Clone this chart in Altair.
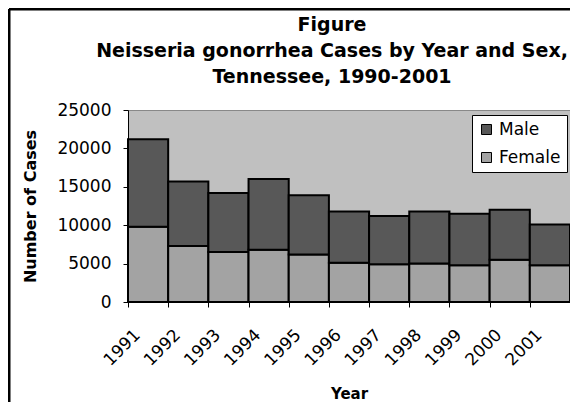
import altair as alt
import pandas as pd

years = ["1991", "1992", "1993", "1994", "1995", "1996", "1997", "1998", "1999", "2000", "2001"]
female = [9800, 7300, 6500, 6800, 6200, 5100, 4900, 5000, 4800, 5500, 4800]
male = [11400, 8400, 7700, 9200, 7700, 6700, 6300, 6800, 6700, 6500, 5300]
sexes = ["Male", "Female"]
y_ticks = [0, 5000, 10000, 15000, 20000, 25000]
title_lines = ["Figure", "Neisseria gonorrhea Cases by Year and Sex,", "Tennessee, 1990-2001"]

rows = []
for i, yr in enumerate(years):
    rows.append({"Year": yr, "Sex": "Female", "Cases": female[i], "ord": 0})
    rows.append({"Year": yr, "Sex": "Male", "Cases": male[i], "ord": 1})
df = pd.DataFrame(rows)

bars = alt.Chart(df).mark_bar(stroke="black", strokeWidth=2).encode(
    x=alt.X(
        "Year:O",
        title="Year",
        scale=alt.Scale(paddingInner=0, paddingOuter=0),
        axis=alt.Axis(
            labelAngle=315,
            labelAlign="right",
            labelBaseline="middle",
            labelPadding=25,
            labelOffset=-11,
            labelFontSize=17,
            labelColor="black",
            tickBand="extent",
            tickSize=5,
            tickColor="black",
            domainColor="black",
            titleFontSize=15,
            titleFontWeight="bold",
            titleColor="black",
            titleY=91,
            titleBaseline="middle",
        ),
    ),
    y=alt.Y(
        "Cases:Q",
        stack="zero",
        title="Number of Cases",
        scale=alt.Scale(domain=[0, 25000], nice=False),
        axis=alt.Axis(
            values=y_ticks,
            format="d",
            grid=False,
            labelFontSize=17,
            labelColor="black",
            labelPadding=12,
            tickSize=5,
            tickColor="black",
            domainColor="black",
            titleFontSize=16,
            titleFontWeight="bold",
            titleColor="black",
            titleAngle=270,
            titleX=-98,
            titleY=96,
            titleAlign="center",
            titleBaseline="middle",
        ),
    ),
    color=alt.Color(
        "Sex:N",
        scale=alt.Scale(domain=sexes, range=["#585858", "#a3a3a3"]),
        legend=alt.Legend(
            title=None,
            orient="none",
            legendX=344,
            legendY=5,
            fillColor="white",
            strokeColor="black",
            padding=6,
            symbolType="square",
            symbolSize=100,
            symbolStrokeColor="black",
            symbolStrokeWidth=1,
            labelFontSize=17,
            labelColor="black",
            rowPadding=10,
        ),
    ),
    order=alt.Order("ord:Q", sort="ascending"),
)

frame = alt.Data(values=[{}])
left_line = alt.Chart(frame).mark_rule(color="black", strokeWidth=3).encode(
    x=alt.value(-119), y=alt.value(-101), y2=alt.value(292)
)
top_line = alt.Chart(frame).mark_rule(color="black", strokeWidth=3).encode(
    x=alt.value(-119), x2=alt.value(442), y=alt.value(-101)
)
title = alt.Chart(frame).mark_text(
    align="center",
    baseline="alphabetic",
    fontSize=19,
    fontWeight="bold",
    color="black",
    lineHeight=26,
).encode(x=alt.value(204), y=alt.value(-79), text=alt.value(title_lines))

chart = alt.layer(bars, left_line, top_line, title).properties(
    width=442,
    height=192,
    padding={"left": 120, "top": 102, "right": 0, "bottom": 100},
    autosize=alt.AutoSizeParams(type="none"),
).configure(font="DejaVu Sans").configure_view(
    fill="#c0c0c0", stroke="#888888"
)

chart.save("out.html", embed_options={"renderer": "svg", "actions": False})
